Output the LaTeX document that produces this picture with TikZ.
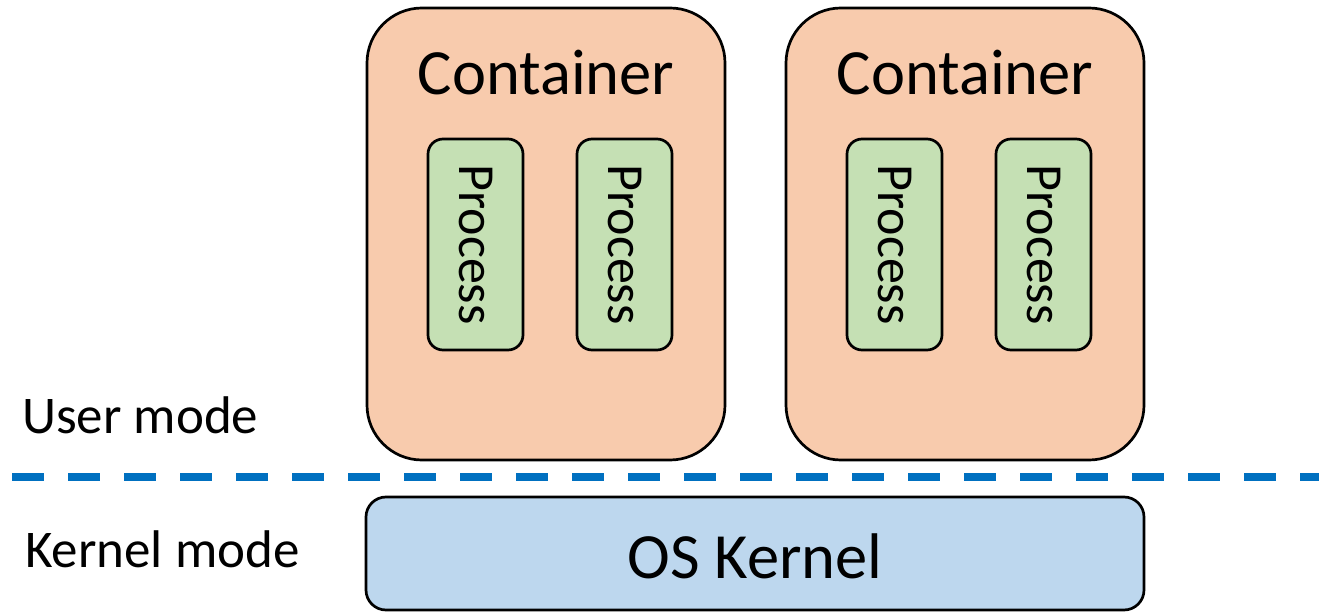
\documentclass[tikz,border=0pt]{standalone}
\usepackage{fontspec}
\setmainfont{Carlito}
\definecolor{contfill}{HTML}{F8CBAD}
\definecolor{procfill}{HTML}{C5E0B4}
\definecolor{kernfill}{HTML}{BDD7EE}
\definecolor{modeline}{HTML}{0070C0}
\tikzset{
  container/.style={draw=black, line width=2.7pt, fill=contfill, rounded corners=55pt,
    minimum width=358pt, minimum height=452pt, inner sep=0pt},
  procbox/.style={draw=black, line width=2.7pt, fill=procfill, rounded corners=15pt,
    minimum width=95pt, minimum height=211pt, inner sep=0pt},
  kernbox/.style={draw=black, line width=2.7pt, fill=kernfill, rounded corners=20pt,
    minimum width=778pt, minimum height=113pt, inner sep=0pt},
  bigtext/.style={font=\fontsize{64.5}{70}\selectfont, inner sep=0pt},
  proctext/.style={font=\fontsize{52}{56}\selectfont, inner sep=0pt, rotate=-90},
  modetext/.style={font=\fontsize{53}{58}\selectfont, inner sep=0pt, anchor=base west},
  boundary/.style={draw=modeline, line width=8pt, dash pattern=on 32pt off 24pt}
}
\begin{document}
\begin{tikzpicture}[x=1pt, y=-1pt]
  \useasboundingbox (0,0) rectangle (1319,612);

  % containers
  \node[container] (c1) at (546,234) {};
  \node[container] (c2) at (965,234) {};
  \node[bigtext, anchor=base] (c1t) at (546,95) {Container};
  \node[bigtext, anchor=base] (c2t) at (965,95) {Container};

  % processes
  \node[procbox] (p11) at (475.5,244.5) {};
  \node[procbox] (p12) at (624.5,244.5) {};
  \node[procbox] (p21) at (894.5,244.5) {};
  \node[procbox] (p22) at (1043.5,244.5) {};
  \node[proctext] at (p11) {Process};
  \node[proctext] at (p12) {Process};
  \node[proctext] at (p21) {Process};
  \node[proctext] at (p22) {Process};

  % user / kernel boundary
  \coordinate (bl) at (12,477);
  \coordinate (br) at (1330,477);
  \draw[boundary] (bl) -- (br);

  \node[modetext] (um) at (22,433) {User mode};
  \node[modetext] (km) at (25,567) {Kernel mode};

  % kernel
  \node[kernbox] (k) at (755,553.5) {};
  \node[bigtext, anchor=base] (kt) at (755,578) {OS Kernel};
\end{tikzpicture}
\end{document}
